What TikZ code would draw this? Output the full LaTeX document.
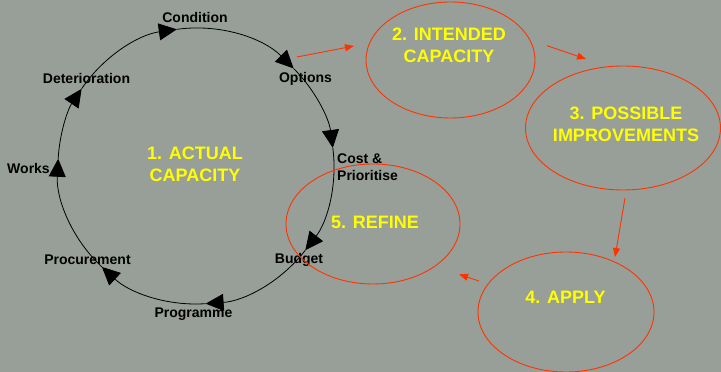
\documentclass[tikz,border=0pt]{standalone}
\usepackage{fontspec}
\setmainfont{Liberation Sans}
\usetikzlibrary{arrows.meta,shapes.geometric}
\definecolor{bgc}{RGB}{151,159,152}
\definecolor{redc}{RGB}{255,51,0}
\definecolor{yel}{RGB}{255,255,0}
\begin{document}
\begin{tikzpicture}[x=1pt,y=1pt,
  lbl/.style={font=\fontsize{14}{17}\selectfont\bfseries, text=black, inner sep=0pt},
  ylbl/.style={font=\fontsize{18}{22}\selectfont\bfseries, text=yel, inner sep=0pt, align=center},
  cyc/.style={draw=black, line width=0.8pt, -{Triangle[length=18pt,width=17pt]}},
  oval/.style={draw=redc, line width=0.9pt, ellipse, inner sep=0pt},
  rarr/.style={draw=redc, line width=0.9pt, -{Triangle[length=9pt,width=7pt]}}]
\useasboundingbox (0,0) rectangle (721,372);
\fill[bgc] (0,0) rectangle (721,372);
% circle
\coordinate (O) at (196,206);
\path (O) ++(146:138) coordinate (pDet);
\path (O) ++(98:138) coordinate (pCon);
\path (O) ++(45:138) coordinate (pOpt);
\path (O) ++(7.5:138) coordinate (pCost);
\path (O) ++(-37.6:138) coordinate (pBud);
\path (O) ++(-86:138) coordinate (pProg);
\path (O) ++(-133:138) coordinate (pProc);
\path (O) ++(177:138) coordinate (pWork);
\draw[cyc] (pDet) arc[start angle=146, end angle=98, radius=138];
\draw[cyc] (pCon) arc[start angle=98, end angle=45, radius=138];
\draw[cyc] (pOpt) arc[start angle=45, end angle=7.5, radius=138];
\draw[cyc] (pCost) arc[start angle=7.5, end angle=-37.6, radius=138];
\draw[cyc] (pBud) arc[start angle=-37.6, end angle=-86, radius=138];
\draw[cyc] (pProg) arc[start angle=-86, end angle=-133, radius=138];
\draw[cyc] (pProc) arc[start angle=-133, end angle=-183, radius=138];
\draw[cyc] (pWork) arc[start angle=177, end angle=146, radius=138];
% black labels
\node[lbl] (lCon) at (195,354) {Condition};
\node[lbl] (lDet) at (86.5,293) {Deterioration};
\node[lbl] (lOpt) at (305.5,293) {Options};
\node[lbl, anchor=west, align=left] (lCost) at (337,204.5) {Cost \&\\Prioritise};
\node[lbl] (lWork) at (28.5,204) {Works};
\node[lbl] (lProc) at (87.5,112) {Procurement};
\node[lbl] (lBud) at (299,112) {Budget};
\node[lbl] (lProg) at (193.5,58) {Programme};
% ellipses
\node[oval, minimum width=169, minimum height=116] (e2) at (450.5,312) {};
\node[oval, minimum width=195, minimum height=124] (e3) at (623,244) {};
\node[oval, minimum width=174, minimum height=120] (e5) at (373,148) {};
\node[oval, minimum width=176, minimum height=120] (e4) at (566,60) {};
% yellow texts
\node[ylbl] (t1) at (195,208) {1. ACTUAL\\CAPACITY};
\node[ylbl] (t2) at (449,327) {2. INTENDED\\CAPACITY};
\node[ylbl] (t3) at (626,248) {3. POSSIBLE\\IMPROVEMENTS};
\node[ylbl] (t5) at (375,150) {5. REFINE};
\node[ylbl] (t4) at (565.5,75) {4. APPLY};
% red arrows
\coordinate (a1s) at (297,315); \coordinate (a1e) at (354,326);
\coordinate (a2s) at (547,326.3); \coordinate (a2e) at (586,313);
\coordinate (a3s) at (625,174); \coordinate (a3e) at (615,115);
\coordinate (a4s) at (479,91); \coordinate (a4e) at (459,97.7);
\draw[rarr] (a1s) -- (a1e);
\draw[rarr] (a2s) -- (a2e);
\draw[rarr] (a3s) -- (a3e);
\draw[rarr] (a4s) -- (a4e);
\end{tikzpicture}
\end{document}
